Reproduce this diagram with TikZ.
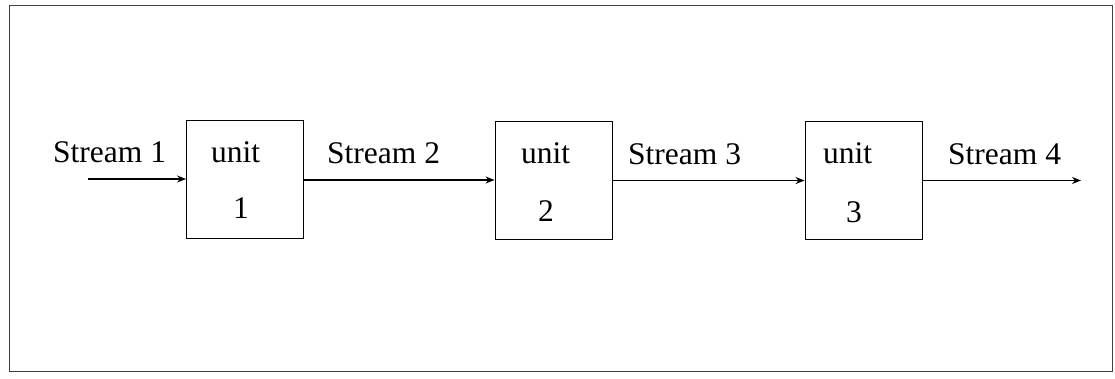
\documentclass[tikz,border=0pt]{standalone}
\usepackage{fontspec}
\setmainfont{Liberation Serif}
\usetikzlibrary{arrows.meta}
\begin{document}
\begin{tikzpicture}[x=1pt,y=-1pt,
  unitbox/.style={draw,line width=0.9pt,minimum width=117pt,minimum height=118pt,inner sep=0pt},
  lbl/.style={anchor=base west,inner sep=0pt,font=\fontsize{31.5}{36}\selectfont},
  flow/.style={line width=1.3pt,-{Stealth[length=9pt,width=7pt]}}]
\useasboundingbox (0,0) rectangle (1115,378);
% outer frame
\draw[line width=1pt,black!75] (9,5) rectangle (1112,371);
% process units
\node[unitbox] (b1) at (245,179) {};
\node[unitbox] (b2) at (553.5,180) {};
\node[unitbox] (b3) at (863.5,180.5) {};
% unit captions
\node[lbl] (u1) at (211,162) {unit};
\node[lbl] (n1) at (233,218) {1};
\node[lbl] (u2) at (521,163) {unit};
\node[lbl] (n2) at (538,221) {2};
\node[lbl] (u3) at (823,163) {unit};
\node[lbl] (n3) at (846,222) {3};
% stream labels
\node[lbl] (s1) at (53,162) {Stream 1};
\node[lbl] (s2) at (327,163) {Stream 2};
\node[lbl] (s3) at (628,164) {Stream 3};
\node[lbl] (s4) at (948,164) {Stream 4};
% stream connectors
\coordinate (in) at (88,179);
\coordinate (out) at (1081,180.5);
\draw[flow] (in) -- (b1.west);
\draw[flow] (b1.east |- b2.west) -- (b2.west);
\draw[flow] (b2.east |- b3.west) -- (b3.west);
\draw[flow] (b3.east) -- (out);
\end{tikzpicture}
\end{document}
